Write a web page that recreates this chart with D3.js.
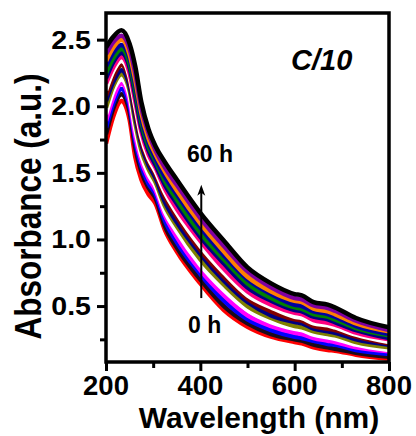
<!DOCTYPE html>
<html>
<head>
<meta charset="utf-8">
<script src="https://cdn.jsdelivr.net/npm/d3@7"></script>
<style>
  html, body { margin: 0; padding: 0; background: #fff; }
  svg { display: block; }
  text { font-family: "Liberation Sans", Arial, Helvetica, sans-serif; font-weight: bold; fill: #000; }
</style>
</head>
<body>
<div id="chart"></div>
<script>
// ---------------- data ----------------
const wavelength = [200, 215, 233, 250, 262, 275, 290, 305, 325, 350, 400, 450, 500, 550, 600, 615, 640, 670, 685, 730, 800];

const t0  = [1.72,1.92,2.04,1.90,1.62,1.45,1.34,1.27,1.07,0.91,0.67,0.47,0.345,0.27,0.23,0.22,0.19,0.17,0.165,0.135,0.105];
const t4  = [1.79,1.98,2.09,1.96,1.69,1.51,1.39,1.31,1.10,0.94,0.70,0.50,0.37,0.29,0.25,0.24,0.21,0.19,0.18,0.15,0.12];
const t8  = [1.84,2.02,2.13,2.00,1.74,1.55,1.42,1.34,1.14,0.98,0.74,0.54,0.40,0.32,0.27,0.26,0.24,0.215,0.21,0.17,0.14];
const t12 = [1.89,2.06,2.17,2.04,1.78,1.59,1.46,1.37,1.18,1.02,0.77,0.58,0.43,0.35,0.30,0.29,0.26,0.24,0.23,0.19,0.16];
const t16 = [1.94,2.11,2.20,2.08,1.83,1.63,1.49,1.40,1.21,1.06,0.81,0.62,0.47,0.38,0.33,0.32,0.285,0.265,0.255,0.21,0.17];
const t20 = [1.99,2.15,2.24,2.12,1.88,1.67,1.53,1.43,1.25,1.10,0.85,0.66,0.50,0.41,0.35,0.34,0.31,0.29,0.28,0.23,0.19];
const t24 = [2.04,2.18,2.27,2.15,1.92,1.71,1.56,1.46,1.28,1.13,0.89,0.69,0.53,0.43,0.38,0.37,0.33,0.31,0.30,0.25,0.21];
const t28 = [2.08,2.22,2.31,2.19,1.96,1.74,1.59,1.49,1.32,1.17,0.92,0.72,0.555,0.46,0.40,0.39,0.35,0.33,0.32,0.27,0.22];
const t32 = [2.12,2.26,2.34,2.22,2.00,1.77,1.61,1.51,1.35,1.20,0.95,0.75,0.58,0.49,0.42,0.41,0.37,0.355,0.34,0.285,0.23];
const t36 = [2.17,2.29,2.37,2.25,2.04,1.81,1.64,1.54,1.38,1.23,0.99,0.78,0.61,0.51,0.45,0.44,0.395,0.375,0.36,0.30,0.25];
const t40 = [2.21,2.33,2.40,2.29,2.08,1.84,1.67,1.56,1.41,1.27,1.02,0.82,0.64,0.54,0.47,0.46,0.42,0.40,0.38,0.32,0.26];
const t44 = [2.25,2.36,2.43,2.32,2.12,1.88,1.70,1.59,1.44,1.30,1.05,0.85,0.67,0.56,0.49,0.48,0.44,0.42,0.40,0.335,0.28];
const t48 = [2.30,2.40,2.46,2.36,2.16,1.91,1.73,1.61,1.47,1.34,1.09,0.88,0.70,0.59,0.51,0.50,0.46,0.44,0.42,0.35,0.29];
const t52 = [2.34,2.44,2.50,2.39,2.20,1.95,1.76,1.64,1.51,1.37,1.12,0.91,0.72,0.61,0.54,0.53,0.48,0.46,0.44,0.37,0.31];
const t56 = [2.39,2.48,2.53,2.43,2.25,1.99,1.80,1.67,1.54,1.41,1.16,0.95,0.76,0.64,0.56,0.55,0.505,0.485,0.465,0.39,0.32];
const t60 = [2.44,2.52,2.57,2.47,2.30,2.03,1.83,1.70,1.58,1.45,1.20,0.99,0.79,0.67,0.59,0.58,0.53,0.51,0.49,0.41,0.34];

const seriesList = [t0, t4, t8, t12, t16, t20, t24, t28, t32, t36, t40, t44, t48, t52, t56, t60];
const seriesColors = ["#FF0000", "#1A0A1A", "#0000FF", "#FF00FF", "#FFFFFF", "#808000", "#000080", "#800000",
                      "#FFFFFF", "#FF0080", "#000080", "#008000", "#0000A0", "#FF8000", "#8000A0", "#000000"];

const xMajorTicks = [200, 400, 600, 800];
const xMinorTicks = [300, 500, 700];
const yMajorTicks = [0.5, 1.0, 1.5, 2.0, 2.5];
const yMinorTicks = [0.25, 0.75, 1.25, 1.75, 2.25];

const xTitle = "Wavelength (nm)";
const yTitle = "Absorbance (a.u.)";
const panelLabel = "C/10";
const startLabel = "0 h";
const endLabel = "60 h";

// ---------------- layout ----------------
const W = 416, H = 436;
const plot = { left: 106, right: 389, top: 13, bottom: 362 };

const svg = d3.select("#chart").append("svg").attr("width", W).attr("height", H);

const x = d3.scaleLinear().domain([200, 800]).range([plot.left, plot.right]);
const y = d3.scaleLinear().domain([0.08, 2.7]).range([plot.bottom, plot.top]);

// curves
const line = d3.line()
  .x((d, i) => x(wavelength[i]))
  .y(d => y(d))
  .curve(d3.curveMonotoneX);

const clipId = "plotclip";
svg.append("clipPath").attr("id", clipId).append("rect")
  .attr("x", plot.left).attr("y", plot.top)
  .attr("width", plot.right - plot.left).attr("height", plot.bottom - plot.top);

svg.append("g").attr("clip-path", `url(#${clipId})`)
  .selectAll("path").data(seriesList).join("path")
  .attr("d", d => line(d))
  .attr("fill", "none")
  .attr("stroke", (d, i) => seriesColors[i])
  .attr("stroke-width", 4.5)
  .attr("stroke-linejoin", "round");

// axes ticks
const axisStroke = 3;
const xAxisG = svg.append("g").attr("transform", `translate(0,${plot.bottom})`)
  .call(d3.axisBottom(x).tickValues(xMajorTicks).tickSize(9).tickSizeOuter(0).tickFormat(""));
const xMinorG = svg.append("g").attr("transform", `translate(0,${plot.bottom})`)
  .call(d3.axisBottom(x).tickValues(xMinorTicks).tickSize(6).tickSizeOuter(0).tickFormat(""));
const yAxisG = svg.append("g").attr("transform", `translate(${plot.left},0)`)
  .call(d3.axisLeft(y).tickValues(yMajorTicks).tickSize(9).tickSizeOuter(0).tickFormat(""));
const yMinorG = svg.append("g").attr("transform", `translate(${plot.left},0)`)
  .call(d3.axisLeft(y).tickValues(yMinorTicks).tickSize(6).tickSizeOuter(0).tickFormat(""));
[xAxisG, xMinorG, yAxisG, yMinorG].forEach(g => {
  g.select(".domain").remove();
  g.selectAll("line").attr("stroke", "#000").attr("stroke-width", axisStroke);
});

// frame
svg.append("rect")
  .attr("x", plot.left).attr("y", plot.top)
  .attr("width", plot.right - plot.left).attr("height", plot.bottom - plot.top)
  .attr("fill", "none").attr("stroke", "#000").attr("stroke-width", 3.5);

// tick labels
svg.append("g").selectAll("text").data(xMajorTicks).join("text")
  .attr("x", d => x(d)).attr("y", 395)
  .attr("text-anchor", "middle")
  .style("font-size", "27.5px")
  .text(d => d);

svg.append("g").selectAll("text").data(yMajorTicks).join("text")
  .attr("transform", d => `translate(91,${y(d) + 9}) scale(1.12,1)`)
  .attr("text-anchor", "end")
  .style("font-size", "25.5px")
  .text(d => d3.format(".1f")(d));

// axis titles
svg.append("text")
  .attr("x", 259).attr("y", 428)
  .attr("text-anchor", "middle")
  .style("font-size", "30px")
  .text(xTitle);

svg.append("text")
  .attr("transform", `translate(41,${(plot.top + plot.bottom) / 2 + 19}) scale(1.15,1) rotate(-90)`)
  .attr("text-anchor", "middle")
  .style("font-size", "31.5px")
  .text(yTitle);

// annotations
svg.append("text")
  .attr("x", 291).attr("y", 70)
  .style("font-size", "29px").style("font-style", "italic")
  .text(panelLabel);

svg.append("text")
  .attr("x", 187).attr("y", 162)
  .style("font-size", "23px")
  .text(endLabel);

svg.append("text")
  .attr("x", 188).attr("y", 333)
  .style("font-size", "23px")
  .text(startLabel);

// arrow
const ax = x(402), ay0 = y(0.56), ay1 = y(1.41);
svg.append("line")
  .attr("x1", ax).attr("x2", ax).attr("y1", ay0).attr("y2", ay1 + 6)
  .attr("stroke", "#000").attr("stroke-width", 2);
svg.append("path")
  .attr("d", `M${ax},${ay1} L${ax - 4},${ay1 + 11} L${ax},${ay1 + 8} L${ax + 4},${ay1 + 11} Z`)
  .attr("fill", "#000");
</script>
</body>
</html>
